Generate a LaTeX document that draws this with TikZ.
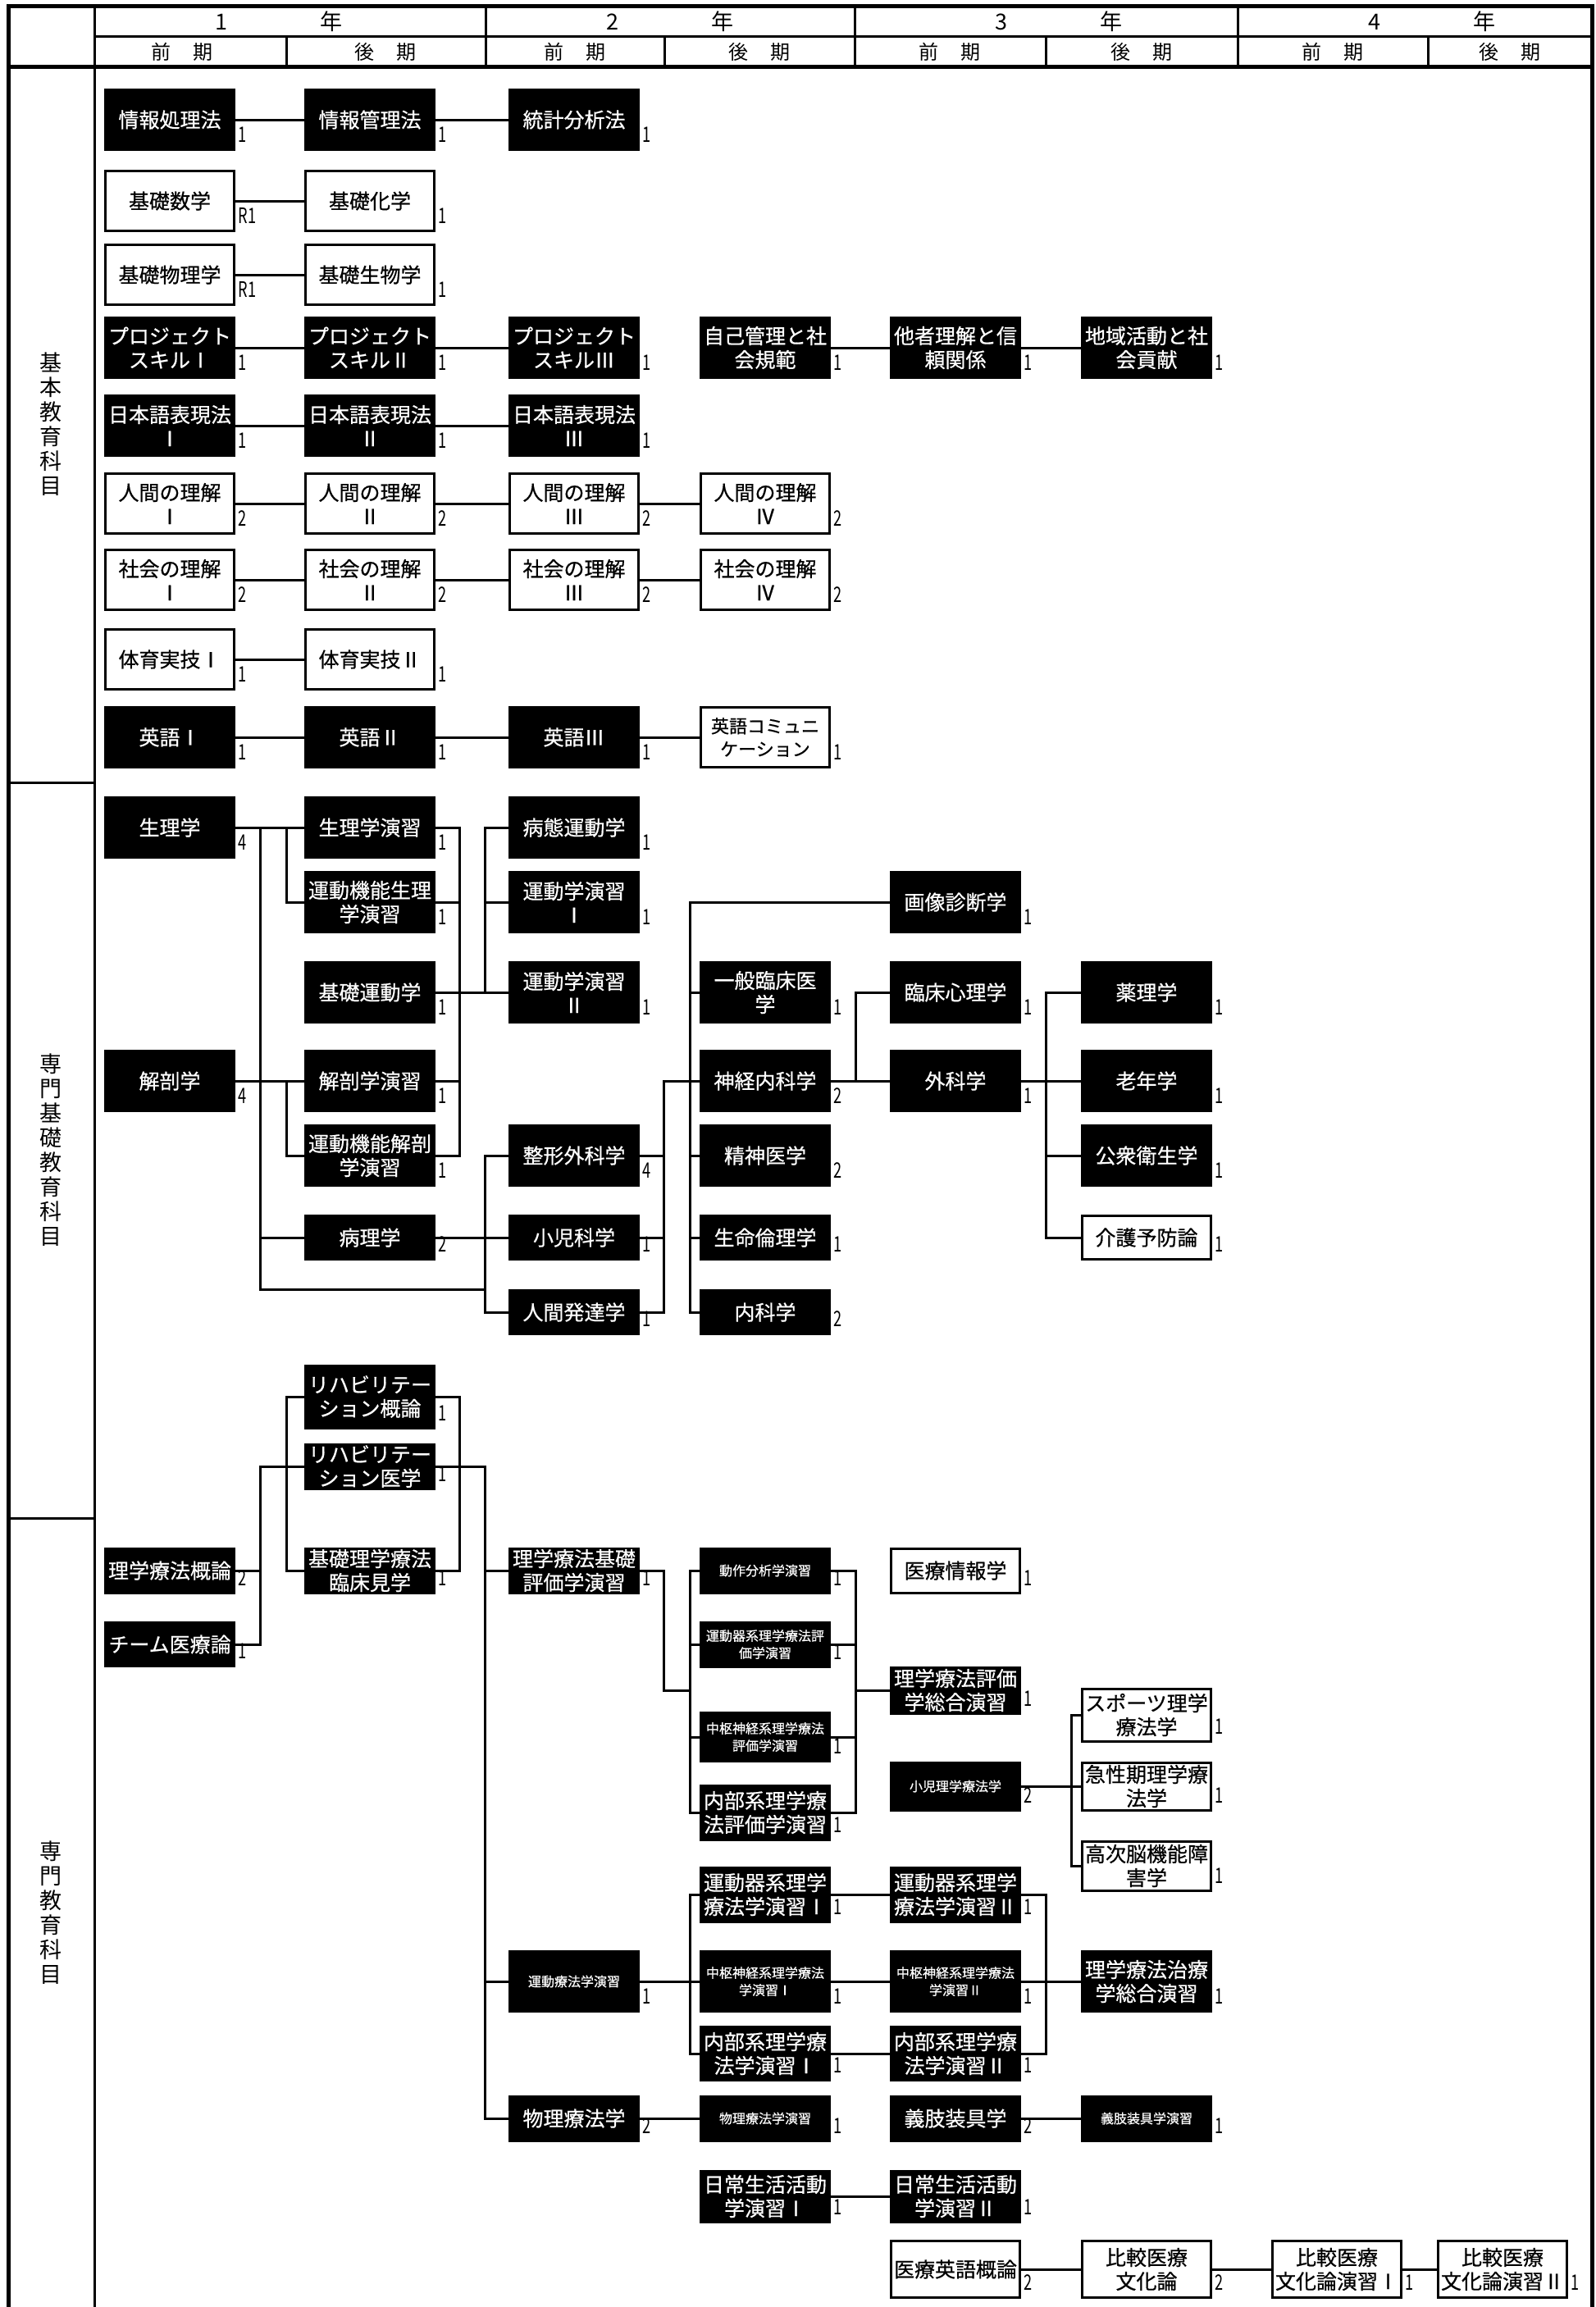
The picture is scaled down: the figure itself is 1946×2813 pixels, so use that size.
\documentclass[tikz,border=0pt]{standalone}
\usepackage{fontspec}
\usepackage{graphicx}
\setmainfont{Noto Sans CJK JP}
\newfontfamily\futoi{Noto Sans CJK JP}[FakeBold=0.6]

\tikzset{
  kamoku/.style={draw=black, fill=black, text=white, minimum width=78.5pt, minimum height=36.5pt,
    inner sep=0pt, align=center, font=\futoi\fontsize{12.5}{14.5}\selectfont},
  shiro/.style={kamoku, fill=white, text=black},
  komoji/.style={font=\futoi\fontsize{8}{10.5}\selectfont},
  ht/.style={minimum height=#1*0.5pt-1.5pt},
  tanilabel/.style={anchor=south west, inner sep=0.5pt, xshift=0.5pt, yshift=4pt, text=black,
    font=\fontsize{13}{13}\selectfont},
  tani/.style={label={[tanilabel]south east:{\scalebox{0.7}[1]{#1}}}},
  midashi/.style={font=\fontsize{12}{12}\selectfont},
  bunrui/.style={align=center, font=\fontsize{13.5}{15}\selectfont}
}

\begin{document}
\begin{tikzpicture}[x=0.5pt, y=-0.5pt, line width=1.5pt]
  \useasboundingbox (0,0) rectangle (1946,2813);

  % frame
  \draw[line width=2.5pt] (10,2813) -- (10,7) -- (1941,7) -- (1941,2813);
  \draw (115,7) -- (115,2813);
  \draw (115,44) -- (1941,44);
  \draw[line width=2.5pt] (10,81) -- (1941,81);
  \draw (592,7) -- (592,81);
  \draw (1042,7) -- (1042,81);
  \draw (1509,7) -- (1509,81);
  \draw (349,44) -- (349,81);
  \draw (810,44) -- (810,81);
  \draw (1275,44) -- (1275,81);
  \draw (1741,44) -- (1741,81);
  \draw (10,954) -- (115,954);
  \draw (10,1851) -- (115,1851);

  % header
  \node[font=\fontsize{13.5}{13.5}\selectfont] (nen1) at (340,26) {1\hspace{4.2em}年};
  \node[font=\fontsize{13.5}{13.5}\selectfont] (nen2) at (817,26) {2\hspace{4.2em}年};
  \node[font=\fontsize{13.5}{13.5}\selectfont] (nen3) at (1291,26) {3\hspace{4.2em}年};
  \node[font=\fontsize{13.5}{13.5}\selectfont] (nen4) at (1746,26) {4\hspace{4.2em}年};
  \node[midashi] (zen1) at (222,63) {前\hspace{1.1em}期};
  \node[midashi] (kou1) at (470,63) {後\hspace{1.1em}期};
  \node[midashi] (zen2) at (701,63) {前\hspace{1.1em}期};
  \node[midashi] (kou2) at (926,63) {後\hspace{1.1em}期};
  \node[midashi] (zen3) at (1158,63) {前\hspace{1.1em}期};
  \node[midashi] (kou3) at (1392,63) {後\hspace{1.1em}期};
  \node[midashi] (zen4) at (1625,63) {前\hspace{1.1em}期};
  \node[midashi] (kou4) at (1841,63) {後\hspace{1.1em}期};

  % sections
  \node[bunrui] (kihon) at (62,517) {基\\本\\教\\育\\科\\目};
  \node[bunrui] (senki) at (62,1402) {専\\門\\基\\礎\\教\\育\\科\\目};
  \node[bunrui] (senmon) at (62,2332) {専\\門\\教\\育\\科\\目};

  % trunks
  \coordinate (k1) at (317,0);
  \coordinate (k2) at (349,0);
  \coordinate (k3) at (560,0);
  \coordinate (k4) at (591,0);
  \coordinate (k5) at (809,0);
  \coordinate (k6) at (841,0);
  \coordinate (k7) at (1043,0);
  \coordinate (k8) at (1275,0);
  \coordinate (k9) at (1306,0);

  % basic subjects
  \node[kamoku, tani=1] (joho1) at (207,146) {情報処理法};
  \node[kamoku, tani=1] (joho2) at (451,146) {情報管理法};
  \node[kamoku, tani=1] (tokei) at (700,146) {統計分析法};
  \node[shiro, tani=R1] (suugaku) at (207,245) {基礎数学};
  \node[shiro, tani=1] (kagaku) at (451,245) {基礎化学};
  \node[shiro, tani=R1] (butsurigaku) at (207,335) {基礎物理学};
  \node[shiro, tani=1] (seibutsu) at (451,335) {基礎生物学};
  \node[kamoku, tani=1] (proj1) at (207,424) {プロジェクト\\スキルⅠ};
  \node[kamoku, tani=1] (proj2) at (451,424) {プロジェクト\\スキルⅡ};
  \node[kamoku, tani=1] (proj3) at (700,424) {プロジェクト\\スキルⅢ};
  \node[kamoku, tani=1] (jiko) at (933,424) {自己管理と社\\会規範};
  \node[kamoku, tani=1] (tasha) at (1165,424) {他者理解と信\\頼関係};
  \node[kamoku, tani=1] (chiiki) at (1398,424) {地域活動と社\\会貢献};
  \node[kamoku, tani=1] (nihongo1) at (207,519) {日本語表現法\\Ⅰ};
  \node[kamoku, tani=1] (nihongo2) at (451,519) {日本語表現法\\Ⅱ};
  \node[kamoku, tani=1] (nihongo3) at (700,519) {日本語表現法\\Ⅲ};
  \node[shiro, tani=2] (ningen1) at (207,614) {人間の理解\\Ⅰ};
  \node[shiro, tani=2] (ningen2) at (451,614) {人間の理解\\Ⅱ};
  \node[shiro, tani=2] (ningen3) at (700,614) {人間の理解\\Ⅲ};
  \node[shiro, tani=2] (ningen4) at (933,614) {人間の理解\\Ⅳ};
  \node[shiro, tani=2] (shakai1) at (207,707) {社会の理解\\Ⅰ};
  \node[shiro, tani=2] (shakai2) at (451,707) {社会の理解\\Ⅱ};
  \node[shiro, tani=2] (shakai3) at (700,707) {社会の理解\\Ⅲ};
  \node[shiro, tani=2] (shakai4) at (933,707) {社会の理解\\Ⅳ};
  \node[shiro, tani=1] (taiiku1) at (207,804) {体育実技Ⅰ};
  \node[shiro, tani=1] (taiiku2) at (451,804) {体育実技Ⅱ};
  \node[kamoku, tani=1] (eigo1) at (207,899) {英語Ⅰ};
  \node[kamoku, tani=1] (eigo2) at (451,899) {英語Ⅱ};
  \node[kamoku, tani=1] (eigo3) at (700,899) {英語Ⅲ};
  \node[shiro, tani=1, font=\futoi\fontsize{11}{14}\selectfont] (eigocom) at (933,899) {英語コミュニ\\ケーション};

  \draw (joho1) -- (joho2);
  \draw (joho2) -- (tokei);
  \draw (suugaku) -- (kagaku);
  \draw (butsurigaku) -- (seibutsu);
  \draw (proj1) -- (proj2);
  \draw (proj2) -- (proj3);
  \draw (jiko) -- (tasha);
  \draw (tasha) -- (chiiki);
  \draw (nihongo1) -- (nihongo2);
  \draw (nihongo2) -- (nihongo3);
  \draw (ningen1) -- (ningen2);
  \draw (ningen2) -- (ningen3);
  \draw (ningen3) -- (ningen4);
  \draw (shakai1) -- (shakai2);
  \draw (shakai2) -- (shakai3);
  \draw (shakai3) -- (shakai4);
  \draw (taiiku1) -- (taiiku2);
  \draw (eigo1) -- (eigo2);
  \draw (eigo2) -- (eigo3);
  \draw (eigo3) -- (eigocom);

  % basic professional subjects
  \node[kamoku, tani=4] (seiri) at (207,1009) {生理学};
  \node[kamoku, tani=4] (kaibou) at (207,1318) {解剖学};
  \node[kamoku, tani=1] (seirien) at (451,1009) {生理学演習};
  \node[kamoku, tani=1] (undoseiri) at (451,1100) {運動機能生理\\学演習};
  \node[kamoku, tani=1] (kisoundo) at (451,1210) {基礎運動学};
  \node[kamoku, tani=1] (kaibouen) at (451,1318) {解剖学演習};
  \node[kamoku, tani=1] (undokaibou) at (451,1409) {運動機能解剖\\学演習};
  \node[kamoku, tani=2, ht=56] (byouri) at (451,1509) {病理学};
  \node[kamoku, tani=1] (byoutai) at (700,1009) {病態運動学};
  \node[kamoku, tani=1] (undoen1) at (700,1100) {運動学演習\\Ⅰ};
  \node[kamoku, tani=1] (undoen2) at (700,1210) {運動学演習\\Ⅱ};
  \node[kamoku, tani=4] (seikei) at (700,1409) {整形外科学};
  \node[kamoku, tani=1, ht=56] (shouni) at (700,1509) {小児科学};
  \node[kamoku, tani=1, ht=56] (hattatsu) at (700,1600) {人間発達学};
  \node[kamoku, tani=1] (ippan) at (933,1210) {一般臨床医\\学};
  \node[kamoku, tani=2] (shinkei) at (933,1318) {神経内科学};
  \node[kamoku, tani=2] (seishin) at (933,1409) {精神医学};
  \node[kamoku, tani=1, ht=56] (seimei) at (933,1509) {生命倫理学};
  \node[kamoku, tani=2, ht=56] (naika) at (933,1600) {内科学};
  \node[kamoku, tani=1] (gazou) at (1165,1100) {画像診断学};
  \node[kamoku, tani=1] (rinsho) at (1165,1210) {臨床心理学};
  \node[kamoku, tani=1] (geka) at (1165,1318) {外科学};
  \node[kamoku, tani=1] (yakuri) at (1398,1210) {薬理学};
  \node[kamoku, tani=1] (ronen) at (1398,1318) {老年学};
  \node[kamoku, tani=1] (koshu) at (1398,1409) {公衆衛生学};
  \node[shiro, tani=1, ht=56] (kaigo) at (1398,1509) {介護予防論};

  \draw (seiri) -- (seirien);
  \draw (kaibou) -- (kaibouen);
  \draw (seiri.east -| k1) |- (hattatsu.north -| k4);
  \draw (byouri.west -| k1) -- (byouri.west);
  \draw (seiri.east -| k2) |- (undoseiri.west);
  \draw (kaibou.east -| k2) |- (undokaibou.west);
  \draw (seirien.east) -| (k3 |- undokaibou.east) -- (undokaibou.east);
  \draw (undoseiri.east) -- (undoseiri.east -| k3);
  \draw (kaibouen.east) -- (kaibouen.east -| k3);
  \draw (kisoundo) -- (undoen2);
  \draw (byoutai.west) -| (k4 |- undoen2.west);
  \draw (undoen1.west) -- (undoen1.west -| k4);
  \draw (seikei.west) -| (k4 |- hattatsu.west) -- (hattatsu.west);
  \draw (byouri) -- (shouni);
  \draw (seikei.east) -- (seikei.east -| k5);
  \draw (shouni.east) -- (shouni.east -| k5);
  \draw (hattatsu.east) -| (k5 |- shinkei.west) -- (shinkei.west);
  \draw (gazou.west) -| (k6 |- naika.west) -- (naika.west);
  \draw (ippan.west) -- (ippan.west -| k6);
  \draw (seishin.west) -- (seishin.west -| k6);
  \draw (seimei.west) -- (seimei.west -| k6);
  \draw (shinkei) -- (geka);
  \draw (rinsho.west) -| (k7 |- geka.west);
  \draw (geka) -- (ronen);
  \draw (yakuri.west) -| (k8 |- kaigo.west) -- (kaigo.west);
  \draw (koshu.west) -- (koshu.west -| k8);

  % professional subjects
  \node[kamoku, tani=1, ht=79] (rehagai) at (451,1703) {リハビリテー\\ション概論};
  \node[kamoku, tani=1, ht=57] (rehaigaku) at (451,1788) {リハビリテー\\ション医学};
  \node[kamoku, tani=1, ht=57] (kenkaku) at (451,1915) {基礎理学療法\\臨床見学};
  \node[kamoku, tani=2, ht=57] (ptgai) at (207,1915) {理学療法概論};
  \node[kamoku, tani=1, ht=56] (team) at (207,2005) {チーム医療論};
  \node[kamoku, tani=1, ht=57] (kisohyoka) at (700,1915) {理学療法基礎\\評価学演習};
  \node[kamoku, komoji, tani=1, ht=57] (dosa) at (933,1915) {動作分析学演習};
  \node[kamoku, komoji, tani=1, ht=57] (undokihyoka) at (933,2005) {運動器系理学療法評\\価学演習};
  \node[kamoku, komoji, tani=1, ht=62] (chusuhyoka) at (933,2118) {中枢神経系理学療法\\評価学演習};
  \node[kamoku, tani=1, ht=69] (naibuhyoka) at (933,2210) {内部系理学療\\法評価学演習};
  \node[shiro, tani=1, ht=57] (iryojoho) at (1165,1915) {医療情報学};
  \node[kamoku, tani=1, ht=59] (hyokasogo) at (1165,2061) {理学療法評価\\学総合演習};
  \node[kamoku, komoji, tani=2, ht=61] (shoniPT) at (1165,2178) {小児理学療法学};
  \node[shiro, tani=1, ht=67] (sports) at (1398,2091) {スポーツ理学\\療法学};
  \node[shiro, tani=1, ht=61] (kyusei) at (1398,2178) {急性期理学療\\法学};
  \node[shiro, tani=1, ht=63] (koji) at (1398,2275) {高次脳機能障\\害学};
  \node[kamoku, tani=1, ht=69] (undoki1) at (933,2310) {運動器系理学\\療法学演習Ⅰ};
  \node[kamoku, tani=1, ht=69] (undoki2) at (1165,2310) {運動器系理学\\療法学演習Ⅱ};
  \node[kamoku, komoji, tani=1] (unryo) at (700,2416) {運動療法学演習};
  \node[kamoku, komoji, tani=1] (chusu1) at (933,2416) {中枢神経系理学療法\\学演習Ⅰ};
  \node[kamoku, komoji, tani=1] (chusu2) at (1165,2416) {中枢神経系理学療法\\学演習Ⅱ};
  \node[kamoku, tani=1] (chiryo) at (1398,2416) {理学療法治療\\学総合演習};
  \node[kamoku, tani=1, ht=68] (naibu1) at (933,2504) {内部系理学療\\法学演習Ⅰ};
  \node[kamoku, tani=1, ht=68] (naibu2) at (1165,2504) {内部系理学療\\法学演習Ⅱ};
  \node[kamoku, tani=2, ht=57] (butsuri) at (700,2583) {物理療法学};
  \node[kamoku, komoji, tani=1, ht=57] (butsurien) at (933,2583) {物理療法学演習};
  \node[kamoku, tani=2, ht=57] (gishi) at (1165,2583) {義肢装具学};
  \node[kamoku, komoji, tani=1, ht=57] (gishien) at (1398,2583) {義肢装具学演習};
  \node[kamoku, tani=1, ht=65] (adl1) at (933,2678) {日常生活活動\\学演習Ⅰ};
  \node[kamoku, tani=1, ht=65] (adl2) at (1165,2678) {日常生活活動\\学演習Ⅱ};
  \node[shiro, tani=2, ht=72] (iryoeigo) at (1165,2767) {医療英語概論};
  \node[shiro, tani=2, ht=72] (hikaku) at (1398,2767) {比較医療\\文化論};
  \node[shiro, tani=1, ht=72] (hikaku1) at (1630,2767) {比較医療\\文化論演習Ⅰ};
  \node[shiro, tani=1, ht=72] (hikaku2) at (1832,2767) {比較医療\\文化論演習Ⅱ};

  \draw (ptgai.east) -| (k1 |- team.east) -- (team.east);
  \draw (k1 |- ptgai.east) |- (rehaigaku.west);
  \draw (rehagai.west) -| (k2 |- kenkaku.west) -- (kenkaku.west);
  \draw (rehagai.east) -| (k3 |- kenkaku.east) -- (kenkaku.east);
  \draw (rehaigaku.east) -| (k4 |- butsuri.west) -- (butsuri.west);
  \draw (kisohyoka.west) -- (kisohyoka.west -| k4);
  \draw (unryo.west) -- (unryo.west -| k4);
  \draw (kisohyoka.east) -| (k5 |- hyokasogo.west) -- (k6 |- hyokasogo.west);
  \draw (dosa.west) -| (k6 |- naibuhyoka.west) -- (naibuhyoka.west);
  \draw (undokihyoka.west) -- (undokihyoka.west -| k6);
  \draw (chusuhyoka.west) -- (chusuhyoka.west -| k6);
  \draw (dosa.east) -| (k7 |- naibuhyoka.east) -- (naibuhyoka.east);
  \draw (undokihyoka.east) -- (undokihyoka.east -| k7);
  \draw (chusuhyoka.east) -- (chusuhyoka.east -| k7);
  \draw (k7 |- hyokasogo.west) -- (hyokasogo.west);
  \draw (shoniPT) -- (kyusei);
  \draw (sports.west) -| (k9 |- koji.west) -- (koji.west);
  \draw (unryo) -- (chusu1);
  \draw (undoki1.west) -| (k6 |- naibu1.west) -- (naibu1.west);
  \draw (undoki1) -- (undoki2);
  \draw (chusu1) -- (chusu2);
  \draw (naibu1) -- (naibu2);
  \draw (undoki2.east) -| (k8 |- naibu2.east) -- (naibu2.east);
  \draw (chusu2) -- (chiryo);
  \draw (butsuri) -- (butsurien);
  \draw (gishi) -- (gishien);
  \draw (adl1) -- (adl2);
  \draw (iryoeigo) -- (hikaku);
  \draw (hikaku) -- (hikaku1);
  \draw (hikaku1) -- (hikaku2);
\end{tikzpicture}
\end{document}
